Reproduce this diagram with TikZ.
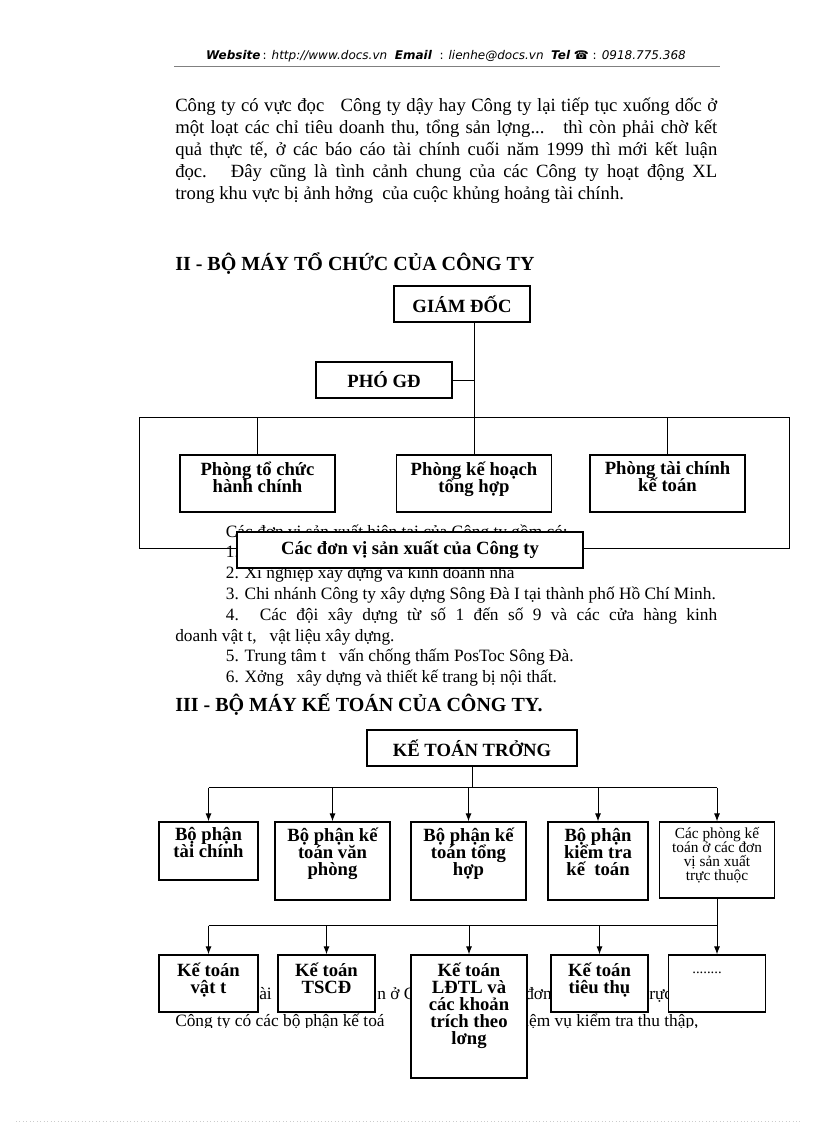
\documentclass[tikz,border=0pt]{standalone}
\usepackage{fontspec}
\setmainfont{Liberation Serif}
\newfontfamily\hdfont{DejaVu Sans}
\usetikzlibrary{arrows.meta,positioning,calc}

\newcommand{\lowpad}[1]{\rule[-#1]{0pt}{#1}}
\newcommand{\bxfont}{\fontsize{14}{12.75}\selectfont\bfseries\lineskiplimit=-20pt\relax}
\newcommand{\smfont}{\fontsize{11.5}{10.5}\selectfont\lineskiplimit=-20pt\relax}
\newcommand{\txfont}{\fontsize{13}{16.5}\selectfont}

\begin{document}
\begin{tikzpicture}[x=0.75pt,y=-0.75pt,>={Latex[length=6pt,width=4.5pt]},
   wh/.style 2 args={minimum width=#1*0.75pt,minimum height=#2*0.75pt},
   bx/.style={draw,line width=0.9pt,fill=white,inner sep=1pt,align=center,font=\bxfont},
   txt/.style={anchor=base west,inner sep=0pt,font=\txfont},
   ttl/.style={anchor=base west,inner sep=0pt,font=\fontsize{15}{17}\selectfont\bfseries},
   ln/.style={line width=0.7pt}]

  \fill[white] (0,0) rectangle (816,1123);
  \node[font=\fontsize{9}{11}\selectfont\hdfont] (web) at (446,56)
    {{\bfseries\itshape Website}\,: {\itshape http://www.docs.vn}\ \ {\bfseries\itshape Email}\ \ : {\itshape lienhe@docs.vn}\ \ {\bfseries\itshape Tel} {\bfseries ☎} : {\itshape 0918.775.368}};
  \draw[gray,line width=0.5pt] (174,66) -- (720,66);

  \node[txt,font=\fontsize{14}{16.5}\selectfont,text width=406.5pt,align=justify] (intro) at (175,112)
    {Công ty có vực đọc\ \ \ Công ty dậy hay Công ty lại tiếp tục xuống dốc ở\linebreak
     một loạt các chỉ tiêu doanh thu, tổng sản lợng...\ \ \ thì còn phải chờ kết\linebreak
     quả thực tế, ở các báo cáo tài chính cuối năm 1999 thì mới kết luận\linebreak
     đọc.\ \ \ Đây cũng là tình cảnh chung của các Công ty hoạt động XL\linebreak
     trong khu vực bị ảnh hởng\ \ của cuộc khủng hoảng tài chính.};

  \node[ttl] (sec2) at (175,270) {II - BỘ MÁY TỔ CHỨC CỦA CÔNG TY};
  \node[bx,wh={136}{36}] (gd) at (462,304) {GIÁM ĐỐC};
  \node[bx,wh={136}{36}] (pgd) at (384,380) {PHÓ GĐ};
  \coordinate (fr1) at (139,417);
  \coordinate (fr2) at (789,548);
  \draw[ln] (fr1) rectangle (fr2);
  \node[bx,wh={155}{57}] (ptc) at (257.5,483.5) {Phòng tổ chức\\hành chính\lowpad{10pt}};
  \node[bx,wh={155}{57}] (pkh) at (474,483.5) {Phòng kế hoạch\\tổng hợp\lowpad{10pt}};
  \node[bx,wh={155}{57}] (ptk) at (667.5,483.5) {Phòng tài chính\\kế toán\lowpad{10pt}};
  \draw[ln] (gd.south -| pkh.north) -- (pkh.north);
  \draw[ln] (pgd.east) -- (pgd.east -| pkh.north);
  \draw[ln] (ptc.north) -- (ptc.north |- fr1);
  \draw[ln] (ptk.north) -- (ptk.north |- fr1);

  \node[txt,font=\fontsize{13}{15.6}\selectfont,text width=406.5pt,align=justify] (units) at (175,537)
    {\hspace*{38pt}Các đơn vị sản xuất hiện tại của Công ty gồm có:\par
     \hspace*{38pt}1.\par
     \hspace*{38pt}2. Xí nghiệp xây dựng và kinh doanh nhà\par
     \hspace*{38pt}3. Chi nhánh Công ty xây dựng Sông Đà I tại thành phố Hồ Chí Minh.\par
     \hspace*{38pt}4. Các đội xây dựng từ số 1 đến số 9 và các cửa hàng kinh\linebreak
     doanh vật t,\ \ \ vật liệu xây dựng.\par
     \hspace*{38pt}5. Trung tâm t\ \ \ vấn chống thấm PosToc Sông Đà.\par
     \hspace*{38pt}6. Xởng\ \ \ xây dựng và thiết kế trang bị nội thất.};
  \node[bx,wh={346}{36}] (dv) at (410,550) {Các đơn vị sản xuất của Công ty};

  \node[ttl] (sec3) at (175,711) {III - BỘ MÁY KẾ TOÁN CỦA CÔNG TY.};
  \node[bx,wh={210}{36}] (ktt) at (472,748) {KẾ TOÁN TRỞNG};

  \node[bx,wh={99}{58}] (btc) at (208.5,851) {Bộ phận\\tài chính\lowpad{13.5pt}};
  \node[bx,wh={115}{78}] (bvp) at (332.5,861) {Bộ phận kế\\toán văn\\phòng\lowpad{13.5pt}};
  \node[bx,wh={115}{78}] (bth) at (468.5,861) {Bộ phận kế\\toán tổng\\hợp\lowpad{13.5pt}};
  \node[bx,wh={100}{78}] (bkt) at (598,861) {Bộ phận\\kiểm tra\\kế\ \ toán\lowpad{13.5pt}};
  \node[bx,wh={115}{76},font=\smfont] (bdv) at (717,860)
    {Các phòng kế\\toán ở các đơn\\vị sản xuất\\trực thuộc\lowpad{8.5pt}};
  \draw[ln] (ktt.south) -- ++(0,21) coordinate (kb);
  \draw[ln] (kb -| btc.north) -- (kb -| bdv.north);
  \foreach \n in {btc,bvp,bth,bkt,bdv}
    \draw[ln,->] (kb -| \n.north) -- (\n.north);

  \begin{scope}
    \clip (150,980) rectangle (800,1027);
    \node[txt] (f1) at (259,999) {ài};
    \node[txt] (f2) at (377,999) {n ở C};
    \node[txt] (f3) at (525,999) {đơn};
    \node[txt] (f4) at (649,999) {rực};
    \node[txt] (f5) at (175,1026) {Công ty có các bộ phận kế toá};
    \node[txt] (f6) at (524,1026) {iệm vụ kiểm tra thu thập,};
  \end{scope}

  \node[bx,wh={99}{57}] (cvt) at (208.5,983.5) {Kế toán\\vật t\lowpad{8pt}};
  \node[bx,wh={97}{57}] (ccd) at (326.5,983.5) {Kế toán\\TSCĐ\lowpad{8pt}};
  \node[bx,wh={116}{123}] (cld) at (469,1016.5) {Kế toán\\LĐTL và\\các khoản\\trích theo\\lơng\lowpad{19.5pt}};
  \node[bx,wh={97}{57}] (ctt) at (599.5,983.5) {Kế toán\\tiêu thụ\lowpad{8pt}};
  \node[bx,wh={97}{57},font=\fontsize{11}{12}\selectfont] (ckh) at (717,983.5) {........\hspace*{15pt}\lowpad{16pt}};
  \draw[ln] (bdv.south) -- ++(0,27) coordinate (cb);
  \draw[ln] (cb -| cvt.north) -- (cb);
  \foreach \n in {cvt,ccd,cld,ctt,ckh}
    \draw[ln,->] (cb -| \n.north) -- (\n.north);

  \draw[gray!40,dotted,line width=0.6pt] (16,1121) -- (800,1121);
\end{tikzpicture}
\end{document}
